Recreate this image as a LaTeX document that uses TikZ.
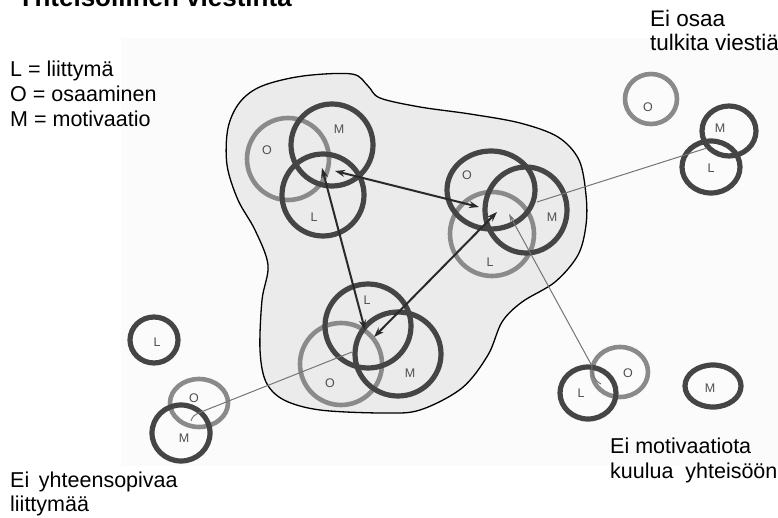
\documentclass[tikz,border=0pt]{standalone}
\usepackage{fontspec}
\setmainfont{Liberation Sans}
\usetikzlibrary{arrows.meta}
\definecolor{ringdark}{HTML}{454545}
\definecolor{ringlight}{HTML}{8A8A8A}
\definecolor{blobfill}{HTML}{EBEBEB}
\definecolor{lettergray}{HTML}{505050}
\definecolor{wiregray}{HTML}{757575}
\definecolor{arrowgray}{HTML}{2A2A2A}
\begin{document}
\begin{tikzpicture}[x=1pt,y=-1pt,
  darkring/.style={draw=ringdark,line width=5.2pt},
  lightring/.style={draw=ringlight,line width=4.6pt},
  letterlbl/.style={text=lettergray,font=\fontsize{12.5}{12.5}\selectfont,inner sep=0pt},
  bodytext/.style={font=\fontsize{21.5}{25}\selectfont,inner sep=0pt,anchor=base west},
  sidetext/.style={font=\fontsize{22.5}{25}\selectfont,inner sep=0pt,anchor=base west},
  link/.style={draw=arrowgray,line width=2pt,
    {Stealth[length=10pt,width=7pt]}-{Stealth[length=10pt,width=7pt]}},
  onelink/.style={draw=wiregray,line width=1pt,
    {Stealth[length=8pt,width=5pt]}-},
  thinlink/.style={draw=wiregray,line width=1pt}
]
\useasboundingbox (0,0) rectangle (778,518);
\fill[black!1.5] (121,38) rectangle (778,466);

% community region
\filldraw[fill=blobfill,draw=black,line width=1.3pt]
  plot[smooth cycle,tension=0.55] coordinates {
  (262,86) (303,76) (352,74) (368,86) (380,98) (420,107) (470,114)
  (520,123) (558,137) (579,160) (586,195) (586,225) (578,255)
  (555,282) (522,302) (502,322) (488,355) (462,388) (420,410)
  (383,413) (320,410) (284,400) (266,382) (260,350) (262,300)
  (268,265) (255,230) (238,200) (227,165) (228,128) (240,102)};

% member 1
\draw[lightring] (288,159) circle [radius=41];
\draw[darkring] (332,145) circle [radius=41];
\draw[darkring] (323,195) circle [radius=41];
% member 2
\draw[lightring] (492,234) circle [radius=42];
\draw[darkring] (491,190) ellipse [x radius=44,y radius=39];
\draw[darkring] (526,210) ellipse [x radius=41,y radius=43];
% member 3
\draw[lightring] (341,364) circle [radius=41];
\draw[darkring] (368,326) ellipse [x radius=43,y radius=42];
\draw[darkring] (398,354) ellipse [x radius=43,y radius=42];
% outsider: cannot interpret
\draw[lightring] (651,99) ellipse [x radius=26,y radius=25];
\draw[darkring] (729,131) ellipse [x radius=27,y radius=25];
\draw[darkring] (711,167) ellipse [x radius=29,y radius=26];
% outsider: incompatible interface
\draw[darkring] (154,340) ellipse [x radius=24,y radius=23];
\draw[lightring] (199,403) ellipse [x radius=29,y radius=24];
\draw[darkring] (181,433) ellipse [x radius=29,y radius=28];
% outsider: no motivation
\draw[lightring] (620,372) ellipse [x radius=28,y radius=25];
\draw[darkring] (588,393) ellipse [x radius=28,y radius=26];
\draw[darkring] (713,386) ellipse [x radius=28,y radius=21];

% connection points
\coordinate (p1a) at (322,168);
\coordinate (p1b) at (335,171);
\coordinate (p2a) at (479,207);
\coordinate (p2b) at (497,212);
\coordinate (p2c) at (509,214);
\coordinate (p2d) at (537,202);
\coordinate (p3a) at (365,330);
\coordinate (p3b) at (374,337);
\coordinate (p3c) at (352,352);
\coordinate (qtr) at (707,148);
\coordinate (qbr) at (592,366);
\coordinate (qbrend) at (601,384);
\coordinate (qbl) at (201,412);
\coordinate (qblend) at (191,421);

% links between members
\draw[link] (p1b) -- (p2a);
\draw[link] (p1a) -- (p3a);
\draw[link] (p3b) -- (p2b);
% failed links to outsiders
\draw[thinlink] (p2d) -- (qtr);
\draw[onelink] (p2c) -- (qbr) .. controls (591,374) and (594,380) .. (qbrend);
\draw[thinlink] (p3c) -- (qbl) .. controls (196,414) and (192,416) .. (qblend);

% ring letters
\node[letterlbl] (l1o) at (267,150) {O};
\node[letterlbl] (l1m) at (339,129) {M};
\node[letterlbl] (l1l) at (314,217) {L};
\node[letterlbl] (l2o) at (467,175) {O};
\node[letterlbl] (l2m) at (552,217) {M};
\node[letterlbl] (l2l) at (490,262) {L};
\node[letterlbl] (l3l) at (367,300) {L};
\node[letterlbl] (l3o) at (330,383) {O};
\node[letterlbl] (l3m) at (410,373) {M};
\node[letterlbl] (l4o) at (648,107) {O};
\node[letterlbl] (l4m) at (720,128) {M};
\node[letterlbl] (l4l) at (711,168) {L};
\node[letterlbl] (l5l) at (157,342) {L};
\node[letterlbl] (l5o) at (194,398) {O};
\node[letterlbl] (l5m) at (184,438) {M};
\node[letterlbl] (l6l) at (581,393) {L};
\node[letterlbl] (l6o) at (628,373) {O};
\node[letterlbl] (l6m) at (710,388) {M};

% texts
\node[anchor=base west,inner sep=0pt,font=\fontsize{26}{26}\selectfont\bfseries] (title) at (17,7) {Yhteisöllinen viestintä};
\node[bodytext] (key1) at (10,77) {L = liittymä};
\node[bodytext] (key2) at (10,102) {O = osaaminen};
\node[bodytext] (key3) at (10,127) {M = motivaatio};
\node[sidetext] (tr1) at (650,27) {Ei osaa};
\node[sidetext] (tr2) at (650,51) {tulkita viestiä};
\node[bodytext] (br1) at (610,453) {Ei motivaatiota};
\node[bodytext] (br2) at (610,478) {kuulua\hspace{0.55em}yhteisöön};
\node[bodytext] (bl1) at (10,487) {Ei\hspace{0.45em}yhteensopivaa};
\node[bodytext] (bl2) at (10,511) {liittymää};
\end{tikzpicture}
\end{document}
